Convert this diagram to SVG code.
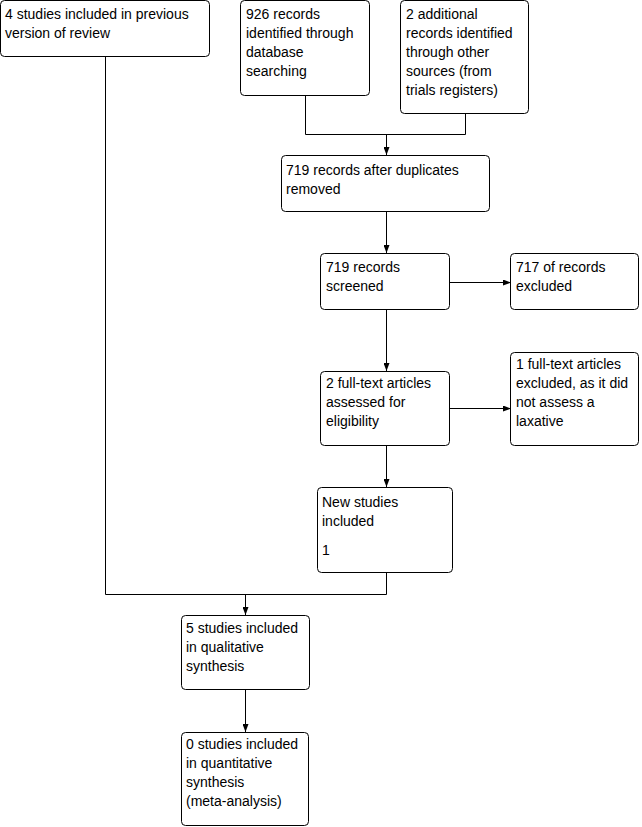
<svg xmlns="http://www.w3.org/2000/svg" width="642" height="827" viewBox="0 0 642 827">
<style>
rect.b{fill:#fff;stroke:#000;stroke-width:1}
text{font-family:"Liberation Sans",Arial,sans-serif;font-size:14px;fill:#000}
.c{fill:none;stroke:#000;stroke-width:1}
</style>
<defs>
<marker id="ah" viewBox="0 0 8 6" refX="8" refY="3" markerWidth="8" markerHeight="6" orient="auto" markerUnits="userSpaceOnUse">
<path d="M0,0 L8,3 L0,6 Z" fill="#000"/>
</marker>
</defs>
<rect width="642" height="827" fill="#fff"/>
<g id="connectors">
<path class="c" d="M305.5,96 V134.5 H465.5 V114"/>
<path class="c" d="M386.5,134.5 V155" marker-end="url(#ah)"/>
<path class="c" d="M386.5,212 V253" marker-end="url(#ah)"/>
<path class="c" d="M449,282.5 H511" marker-end="url(#ah)"/>
<path class="c" d="M386.5,310 V371" marker-end="url(#ah)"/>
<path class="c" d="M449,408.5 H511" marker-end="url(#ah)"/>
<path class="c" d="M386.5,446 V487" marker-end="url(#ah)"/>
<path class="c" d="M386.5,573 V594.5 H105.5 V57"/>
<path class="c" d="M245.5,594.5 V615" marker-end="url(#ah)"/>
<path class="c" d="M245.5,690 V732" marker-end="url(#ah)"/>
</g>
<g id="n1"><rect class="b" x="0.5" y="0.5" width="209" height="56" rx="4"/>
<text x="5" y="19">4 studies included in previous</text><text x="5" y="38">version of review</text></g>
<g id="n2"><rect class="b" x="240.5" y="0.5" width="129" height="95" rx="4"/>
<text x="246" y="19">926 records</text><text x="246" y="38">identified through</text><text x="246" y="57">database</text><text x="246" y="76">searching</text></g>
<g id="n3"><rect class="b" x="400.5" y="0.5" width="128" height="113" rx="4"/>
<text x="406" y="19">2 additional</text><text x="406" y="38">records identified</text><text x="406" y="57">through other</text><text x="406" y="76">sources (from</text><text x="406" y="95">trials registers)</text></g>
<g id="n4"><rect class="b" x="281.5" y="155.5" width="208" height="56" rx="4"/>
<text x="286" y="175">719 records after duplicates</text><text x="286" y="194">removed</text></g>
<g id="n5"><rect class="b" x="320.5" y="253.5" width="129" height="56" rx="4"/>
<text x="326" y="272">719 records</text><text x="326" y="291">screened</text></g>
<g id="n6"><rect class="b" x="510.5" y="253.5" width="128" height="56" rx="4"/>
<text x="516" y="272">717 of records</text><text x="516" y="291">excluded</text></g>
<g id="n7"><rect class="b" x="320.5" y="371.5" width="129" height="74" rx="4"/>
<text x="326" y="388">2 full-text articles</text><text x="326" y="407">assessed for</text><text x="326" y="426">eligibility</text></g>
<g id="n8"><rect class="b" x="510.5" y="352.5" width="128" height="93" rx="4"/>
<text x="516" y="369">1 full-text articles</text><text x="516" y="388">excluded, as it did</text><text x="516" y="407">not assess a</text><text x="516" y="426">laxative</text></g>
<g id="n9"><rect class="b" x="317.5" y="487.5" width="135" height="85" rx="4"/>
<text x="322" y="507">New studies</text><text x="322" y="526">included</text><text x="322" y="555">1</text></g>
<g id="n10"><rect class="b" x="181.5" y="615.5" width="128" height="74" rx="4"/>
<text x="186" y="633">5 studies included</text><text x="186" y="652">in qualitative</text><text x="186" y="671">synthesis</text></g>
<g id="n11"><rect class="b" x="181.5" y="732.5" width="127" height="93" rx="4"/>
<text x="186" y="749">0 studies included</text><text x="186" y="768">in quantitative</text><text x="186" y="787">synthesis</text><text x="186" y="806">(meta-analysis)</text></g>
</svg>
